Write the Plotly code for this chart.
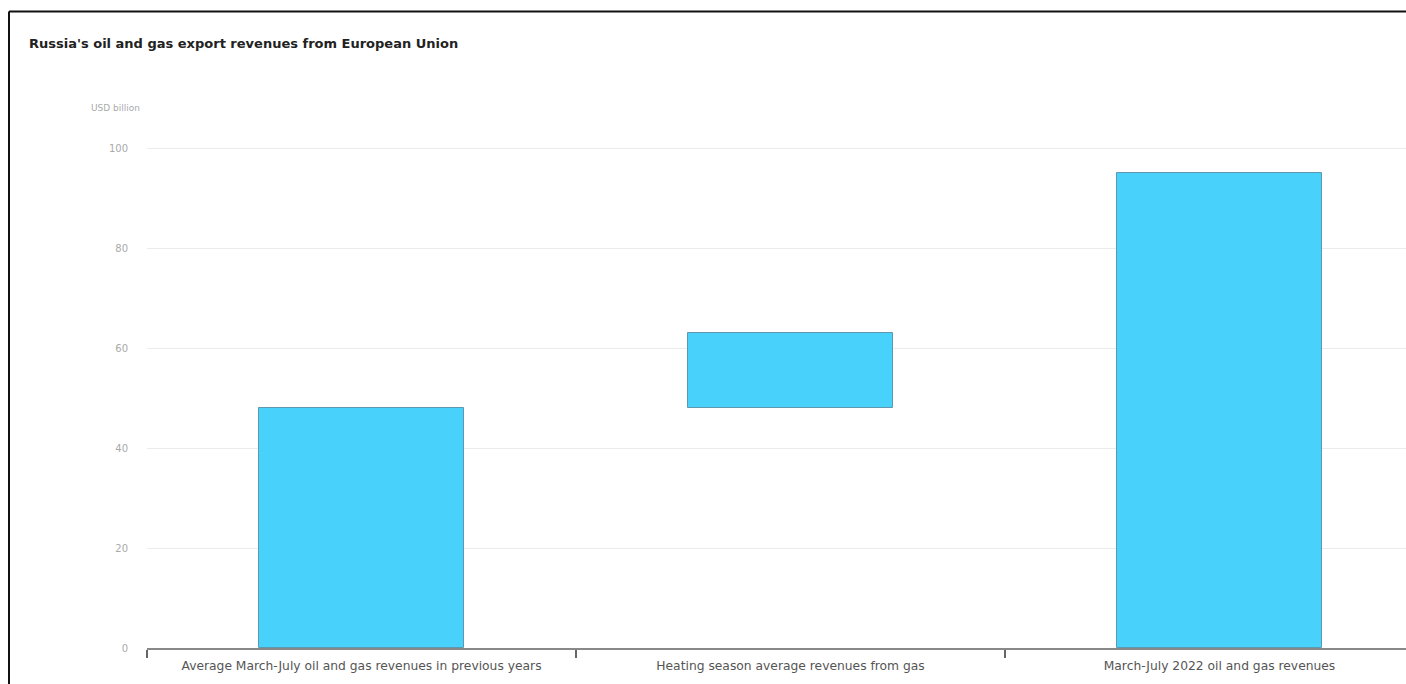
import plotly.graph_objects as go

title = "Russia's oil and gas export revenues from European Union"
unit_label = "USD billion"
categories = [
    "Average March-July oil and gas revenues in previous years",
    "Heating season average revenues from gas",
    "March-July 2022 oil and gas revenues",
]
bar_bases = [0, 48, 0]
bar_heights = [48, 15, 95]
y_ticks = [0, 20, 40, 60, 80, 100]

W, H = 1406, 684
ml, mr, mt, mb = 147, 0, 144, 36
pw, ph = W - ml - mr, H - mt - mb
cat_px = 429.0
y_top = 100 * ph / 500.0

fig = go.Figure()
fig.add_trace(go.Bar(
    x=categories,
    y=bar_heights,
    base=bar_bases,
    width=0.48,
    marker=dict(color="#47D1FB", line=dict(color="#5E98AE", width=1)),
    hoverinfo="skip",
))

def px_x(p):
    return (p - ml) / pw

def px_y(p):
    return (H - mb - p) / ph

fig.update_layout(
    width=W, height=H,
    margin=dict(l=ml, r=mr, t=mt, b=mb),
    paper_bgcolor="white", plot_bgcolor="white",
    showlegend=False,
    font=dict(family="DejaVu Sans, sans-serif", color="#555"),
    bargap=0,
    xaxis=dict(
        type="category",
        range=[-0.5, -0.5 + pw / cat_px],
        tickson="boundaries", ticks="outside", ticklen=8, tickcolor="#666", tickwidth=1.5,
        showline=True, linecolor="#888", linewidth=1.5,
        showgrid=False, zeroline=False,
        ticklabelstandoff=5,
        tickfont=dict(size=12.3, color="#555"),
        fixedrange=True,
    ),
    yaxis=dict(
        range=[0, y_top],
        tickvals=y_ticks,
        showgrid=True, gridcolor="#EBEBEB", gridwidth=1,
        zeroline=False, showline=False, ticks="",
        ticklabelstandoff=18,
        tickfont=dict(size=10, color="#AAAAAA"),
        fixedrange=True,
    ),
    annotations=[
        dict(text=title, xref="paper", yref="paper", x=px_x(27), y=px_y(43),
             xanchor="left", yanchor="middle", showarrow=False,
             font=dict(size=13, color="#222", weight="bold")),
        dict(text=unit_label, xref="paper", yref="paper", x=px_x(89), y=px_y(108),
             xanchor="left", yanchor="middle", showarrow=False,
             font=dict(size=9, color="#AAAAAA")),
    ],
    shapes=[
        dict(type="line", xref="paper", yref="paper", x0=px_x(9), x1=1.05,
             y0=px_y(11.5), y1=px_y(11.5), line=dict(color="#111", width=2)),
        dict(type="line", xref="paper", yref="paper", x0=px_x(9), x1=px_x(9),
             y0=px_y(11.5), y1=-0.2, line=dict(color="#111", width=2)),
    ],
)

fig.write_html("out.html", config={"displayModeBar": False})
